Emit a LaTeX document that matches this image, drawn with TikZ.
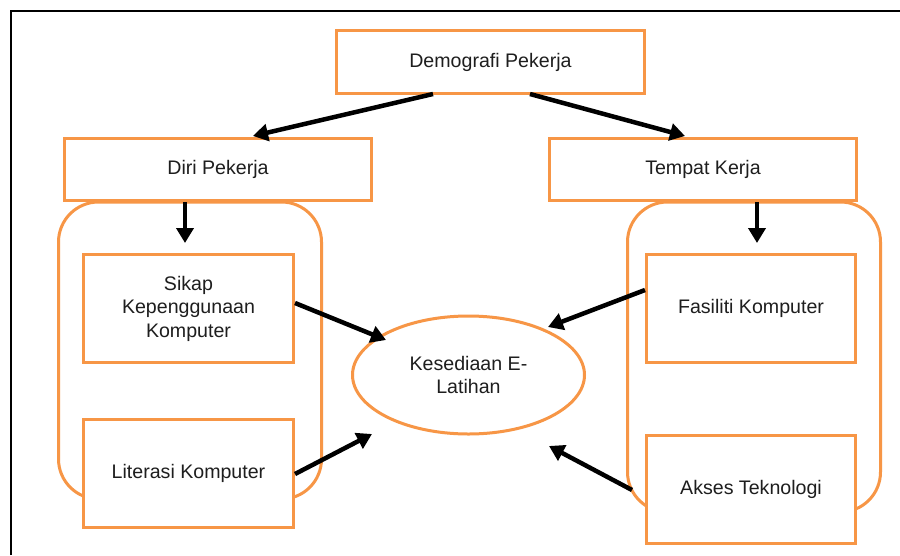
\documentclass[tikz,border=0pt]{standalone}
\usepackage{fontspec}
\setmainfont{Liberation Sans}
\usetikzlibrary{shapes.geometric,arrows.meta}
\definecolor{orng}{HTML}{F79646}
\definecolor{txt}{RGB}{30,30,30}
\tikzset{
  box/.style={draw=orng,line width=3pt,fill=white,rectangle,inner sep=0pt,align=center,text=txt,
    font=\fontsize{19.6}{23.5}\selectfont},
  grp/.style={draw=orng,line width=3pt,rounded corners=40pt},
  arr/.style={line width=4.5pt,draw=black,-{Triangle[length=15pt,width=17pt]}},
}
\begin{document}
\begin{tikzpicture}[x=1pt,y=-1pt]
\useasboundingbox (0,0) rectangle (900,555);
\fill[white] (0,0) rectangle (900,555);
% frame
\draw[line width=2pt] (10.5,555) -- (10.5,11) -- (900,11);
% groups
\draw[grp] (58.5,202) rectangle (321.5,499);
\draw[grp] (627.5,202) rectangle (880.5,512);
% nodes
\node[box,minimum width=308pt,minimum height=63pt] (demo) at (490.5,62) {Demografi Pekerja};
\node[box,minimum width=307pt,minimum height=62pt] (diri) at (218,169.5) {Diri Pekerja};
\node[box,minimum width=307pt,minimum height=62pt] (tempat) at (703,169.5) {Tempat Kerja};
\node[box,minimum width=210pt,minimum height=108pt] (sikap) at (188.5,308.5) {Sikap\\Kepenggunaan\\Komputer};
\node[box,minimum width=210pt,minimum height=108pt] (literasi) at (188.5,473.5) {Literasi Komputer};
\node[box,minimum width=209pt,minimum height=108pt] (fasiliti) at (751,308.5) {Fasiliti Komputer};
\node[box,minimum width=209pt,minimum height=108pt] (akses) at (751,489.5) {Akses Teknologi};
\node[box,ellipse,minimum width=232pt,minimum height=118pt] (kes) at (468.5,375) {Kesediaan E-\\Latihan};
% connector coordinates
\coordinate (d1) at (433,94);
\coordinate (d1t) at (253,136);
\coordinate (d2) at (530,94);
\coordinate (d2t) at (685,136);
\coordinate (p1) at (185,202);
\coordinate (p1t) at (185,243);
\coordinate (t1) at (757,202);
\coordinate (t1t) at (757,243);
\coordinate (s1) at (295,303);
\coordinate (s1t) at (386,340);
\coordinate (l1) at (295,474);
\coordinate (l1t) at (372,434);
\coordinate (f1) at (645,290);
\coordinate (f1t) at (548,327);
\coordinate (a1) at (632,490);
\coordinate (a1t) at (549,446);
% arrows
\draw[arr] (d1) -- (d1t);
\draw[arr] (d2) -- (d2t);
\draw[arr] (p1) -- (p1t);
\draw[arr] (t1) -- (t1t);
\draw[arr] (s1) -- (s1t);
\draw[arr] (l1) -- (l1t);
\draw[arr] (f1) -- (f1t);
\draw[arr] (a1) -- (a1t);
\end{tikzpicture}
\end{document}
